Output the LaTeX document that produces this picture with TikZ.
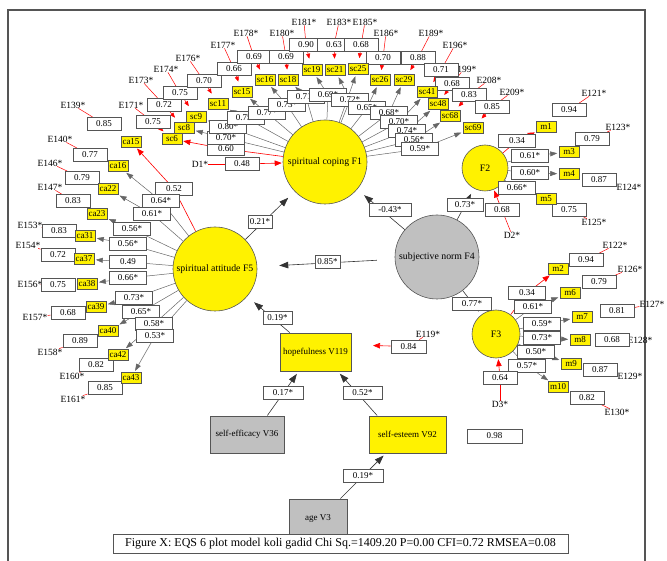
\documentclass[tikz,border=0pt]{standalone}
\usepackage{fontspec}
\setmainfont{Liberation Serif}
\usetikzlibrary{arrows.meta,backgrounds,calc}
\definecolor{fgray}{RGB}{192,192,192}
\definecolor{edge}{RGB}{85,85,85}
\begin{document}
\begin{tikzpicture}[x=1pt,y=-1pt,
  valbox/.style={draw=edge,line width=0.8pt,fill=white,minimum width=34pt,minimum height=13pt,inner sep=1pt,font=\fontsize{9}{9}\selectfont},
  ldbox/.style={valbox,minimum width=37pt},
  indbox/.style={draw=edge,line width=0.6pt,fill=yellow,minimum width=20pt,minimum height=11pt,inner sep=0.5pt,font=\fontsize{9}{9}\selectfont},
  lbl/.style={inner sep=0pt,font=\fontsize{9.5}{9.5}\selectfont},
  factor/.style={circle,draw=edge,line width=0.6pt,fill=yellow,inner sep=0pt,font=\fontsize{9.8}{9.8}\selectfont},
  rectvar/.style={draw=edge,line width=0.9pt,inner sep=0pt,font=\fontsize{9}{9}\selectfont},
  sarr/.style={draw=black!80,line width=0.6pt,-{Triangle[length=9pt,width=6.5pt]},shorten >=9pt},
  ldline/.style={draw=black!60,line width=0.5pt},
  ldarr/.style={draw=black!60,line width=0.5pt,-{Triangle[length=7pt,width=5pt]},shorten >=1.5pt},
  fxline/.style={draw=red,line width=0.6pt},
  fxarr/.style={draw=red,line width=0.6pt,-{Triangle[length=7pt,width=5.5pt]},shorten >=1pt},
  erline/.style={draw=red,line width=0.5pt},
  erarr/.style={draw=red,line width=0.5pt,-{Triangle[length=5pt,width=4pt]}},
]
\useasboundingbox (0,0) rectangle (667,561);

% ---------- main variables ----------
\node[factor,minimum size=84pt] (F1) at (325,162) {spiritual coping F1};
\node[factor,minimum size=84pt] (F5) at (215,269) {spiritual attitude F5};
\node[factor,fill=fgray,minimum size=84pt] (F4) at (437,257) {subjective norm F4};
\node[factor,minimum size=46pt] (F2) at (485,168) {F2};
\node[factor,minimum size=48pt] (F3) at (496,334) {F3};
\node[rectvar,fill=yellow,minimum width=71pt,minimum height=38pt] (hope) at (315.5,352) {hopefulness V119};
\node[rectvar,fill=fgray,minimum width=74pt,minimum height=37pt] (selfeff) at (247,434.5) {self-efficacy V36};
\node[rectvar,fill=yellow,minimum width=77pt,minimum height=37pt] (selfest) at (407.5,434.5) {self-esteem V92};
\node[rectvar,fill=fgray,minimum width=58pt,minimum height=38pt] (age) at (318,518) {age V3};
\node[draw=edge,line width=0.9pt,fill=white,minimum width=455pt,minimum height=19pt,inner sep=0pt,font=\fontsize{12}{12}\selectfont] (cap) at (340.5,543.5) {Figure X: EQS 6 plot model koli gadid Chi Sq.=1409.20 P=0.00 CFI=0.72 RMSEA=0.08};

% ---------- F1 block ----------
\foreach \nm/\en/\px/\py in {6/171/131/105,8/173/141/80,9/174/166/69,11/176/188/58,15/177/223/45,16/178/246/33,18/180/282/33,19/181/304/22,21/183/339/22,25/185/365/22,26/186/386/33,29/189/431/33,41/196/455/45,48/199/464/69,68/208/489/80,69/209/512/92}
  \node[lbl] (Esc\nm) at (\px,\py) {E\en*};
\foreach \nm/\vl/\px/\py in {6/0.75/153/122,8/0.72/164/105,9/0.75/180/93,11/0.70/204/81,15/0.66/234/69,16/0.69/254/57,18/0.69/286/57,19/0.90/306/45,21/0.63/334/45,25/0.68/361/45,26/0.70/383/58,29/0.88/418/58,41/0.71/441/70,48/0.68/452/84,68/0.83/469/95,69/0.85/492/107}
  \node[valbox] (esc\nm) at (\px,\py) {\vl};
\foreach \nm/\px/\py in {6/172/139,8/184/128,9/196/117,11/218/104,15/242/92,16/265/80,18/288/80,19/312/70,21/335/70,25/358/69,26/380/80,29/404/80,41/427/92,48/438/104,68/450/116,69/473/128}
  \node[indbox] (sc\nm) at (\px,\py) {sc\nm};
\foreach \nm/\vl/\px/\py in {6/0.60/226/149,8/0.70*/226/138,9/0.80*/228/127,11/0.75*/246/118,15/0.77*/267/113,16/0.73*/287/105,18/0.71*/306/97,19/0.69*/328/95,21/0.72*/350/100,26/0.65*/367/108,29/0.68*/389/113,41/0.70*/399/122,48/0.74*/407/131,68/0.56*/414/140,69/0.59*/420/149}
  \node[ldbox] (lsc\nm) at (\px,\py) {\vl};

% ---------- F5 block ----------
\foreach \nm/\en/\px/\py in {15/139/73/105,16/140/60/139,22/146/50/163,23/147/50/187,31/153/30/225,37/154/28/245,38/156/30/284,39/157/35/317,40/158/50/352,42/160/72/376,43/161/73/399}
  \node[lbl] (Eca\nm) at (\px,\py) {E\en*};
\foreach \nm/\vl/\px/\py in {15/0.85/104/124,16/0.77/90/155,22/0.79/82/178,23/0.83/73/201,31/0.83/59/231,37/0.72/58/255,38/0.75/58/285,39/0.68/68/313,40/0.89/80/341,42/0.82/96/365,43/0.85/105/388}
  \node[valbox] (eca\nm) at (\px,\py) {\vl};
\foreach \nm/\px/\py in {15/131/142,16/118/166,22/108/189,23/97/214,31/85/236,37/84/259,38/87/284,39/96/307,40/108/331,42/118/355,43/131/378}
  \node[indbox] (ca\nm) at (\px,\py) {ca\nm};
\foreach \nm/\vl/\px/\py in {15/0.52/174/189,16/0.64*/161/201,22/0.61*/152/214,23/0.56*/132/229,31/0.56*/128/244,37/0.49/128/262,38/0.66*/128/278,39/0.73*/134/298,40/0.65*/141/312,42/0.58*/154/324,43/0.53*/155/336}
  \node[ldbox] (lca\nm) at (\px,\py) {\vl};

% ---------- F2 block ----------
\foreach \nm/\en/\px/\py in {1/121/594/93,3/123/618/127,4/124/629/187,5/125/594/222}
  \node[lbl] (Em\nm) at (\px,\py) {E\en*};
\foreach \nm/\vl/\px/\py in {1/0.94/569/110,3/0.79/592/139,4/0.87/599/180,5/0.75/569/210}
  \node[valbox] (em\nm) at (\px,\py) {\vl};
\foreach \nm/\px/\py in {1/546/127,3/569/152,4/569/174,5/546/199}
  \node[indbox] (m\nm) at (\px,\py) {m\nm};
\foreach \nm/\vl/\px/\py in {1/0.34/517/141,3/0.61*/530/156,4/0.60*/530/173,5/0.66*/517/188}
  \node[ldbox] (lm\nm) at (\px,\py) {\vl};

% ---------- F3 block ----------
\foreach \nm/\en/\px/\py in {2/122/615/245,6/126/630/269,7/127/652/304,8/128/640/340,9/129/630/376,10/130/617/412}
  \node[lbl] (Em\nm) at (\px,\py) {E\en*};
\foreach \nm/\vl/\px/\py in {2/0.94/586/260,6/0.79/599/282,7/0.81/617/311,8/0.68/612/340,9/0.87/600/370,10/0.82/587/398}
  \node[valbox] (em\nm) at (\px,\py) {\vl};
\foreach \nm/\px/\py in {2/558/269,6/570/293,7/582/317,8/580/340,9/571/364,10/558/387}
  \node[indbox] (m\nm) at (\px,\py) {m\nm};
\foreach \nm/\vl/\px/\py in {2/0.34/527/293,6/0.61*/533/307,7/0.59*/542/324,8/0.73*/542/338,9/0.50*/536/352,10/0.57*/527/366}
  \node[ldbox] (lm\nm) at (\px,\py) {\vl};

% ---------- disturbances ----------
\node[lbl] (D1) at (200,164) {D1*};
\node[valbox] (d1box) at (242,164) {0.48};
\node[lbl] (D2) at (512,235) {D2*};
\node[valbox] (d2box) at (502,210) {0.68};
\node[lbl] (D3) at (500,404) {D3*};
\node[valbox] (d3box) at (500,378) {0.64};
\node[lbl] (E119) at (428,334) {E119*};
\node[valbox,minimum width=35pt] (d4box) at (408.5,346.5) {0.84};
\coordinate (d4tip) at (372,345.5);
\node[valbox,minimum width=55pt,minimum height=14pt] (e92box) at (494.5,436) {0.98};

% ---------- structural path labels ----------
\node[valbox,minimum width=42pt] (p41) at (390,210) {-0.43*};
\node[valbox,minimum width=24pt] (p51) at (260,222) {0.21*};
\node[valbox,minimum width=25pt] (p45) at (327.5,262) {0.85*};
\node[valbox,minimum width=36pt] (p42) at (465,205) {0.73*};
\node[valbox,minimum width=39pt] (p43) at (472,303.5) {0.77*};
\node[valbox,minimum width=29pt] (ph5) at (277.5,317.5) {0.19*};
\node[valbox,minimum width=40pt] (peh) at (283,393) {0.17*};
\node[valbox,minimum width=39pt] (psh) at (362.5,393) {0.52*};
\node[valbox,minimum width=40pt] (pas) at (363,475.5) {0.19*};

% ---------- connectors (behind) ----------
\begin{scope}[on background layer]
  \draw[edge,line width=1.2pt] (8,561) -- (8,10) -- (645,10) -- (645,561);
  % F1 errors and loadings
  \foreach \nm in {6,8,9,11,15,16,18,19,21,25,26,29,41,48,68,69}{
    \draw[erline] (Esc\nm) -- (esc\nm);
    \draw[erarr] (esc\nm) -- ($(esc\nm.center)!0.55!(sc\nm.center)$);
  }
  \foreach \nm in {8,9,11,15,16,18,19,21,26,29,41,48,68,69}{
    \draw[ldline] (F1) -- (lsc\nm);
    \draw[ldarr] (lsc\nm) -- (sc\nm);
  }
  \draw[fxline] (F1) -- (lsc6);
  \draw[fxarr] (lsc6) -- (sc6);
  \draw[ldarr] (F1) -- (sc25);
  % F5
  \foreach \nm in {15,16,22,23,31,37,38,39,40,42,43}
    \draw[erline] (Eca\nm) -- (eca\nm);
  \foreach \nm in {16,22,23,31,37,38,39,40,42,43}{
    \draw[ldline] (F5) -- (lca\nm);
    \draw[ldarr] (lca\nm) -- (ca\nm);
  }
  \draw[fxline] (F5) -- (lca15);
  \draw[fxarr] (lca15) -- (ca15);
  % F2
  \foreach \nm in {1,3,4,5}
    \draw[erline] (Em\nm) -- (em\nm);
  \foreach \nm in {3,4,5}{
    \draw[ldline] (F2) -- (lm\nm);
    \draw[ldarr] (lm\nm) -- (m\nm);
  }
  \draw[fxline] (F2) -- (lm1);
  \draw[fxarr] (lm1) -- (m1);
  % F3
  \foreach \nm in {2,6,7,8,9,10}
    \draw[erline] (Em\nm) -- (em\nm);
  \foreach \nm in {6,7,8,9,10}{
    \draw[ldline] (F3) -- (lm\nm);
    \draw[ldarr] (lm\nm) -- (m\nm);
  }
  \draw[fxline] (F3) -- (lm2);
  \draw[fxarr] (lm2) -- (m2);
  % disturbances
  \draw[erline] (D1) -- (d1box);
  \draw[fxarr] (d1box) -- (F1);
  \draw[erline] (D2) -- (d2box);
  \draw[fxarr] (d2box) -- (F2);
  \draw[erline] (D3) -- (d3box);
  \draw[fxarr] (d3box) -- (F3);
  \draw[erline] (E119) -- (d4box);
  \draw[fxarr] (d4box) -- (d4tip);
  % structural paths
  \draw[sarr] (F4) -- (F1);
  \draw[sarr] (F5) -- (F1);
  \draw[sarr,shorten <=18pt,shorten >=22pt] (F4) -- (F5);
  \draw[sarr,shorten >=6pt] (F4) -- (F2);
  \draw[sarr,shorten >=4pt] (F4) -- (F3);
  \draw[sarr] (hope.143) -- (F5);
  \draw[sarr,shorten >=3pt] (selfeff.43) -- (hope.-131);
  \draw[sarr,shorten >=3pt] (selfest.148) -- (hope.-41);
  \draw[sarr,shorten >=3pt] (age.41) -- (selfest.-139);
\end{scope}
\end{tikzpicture}
\end{document}
